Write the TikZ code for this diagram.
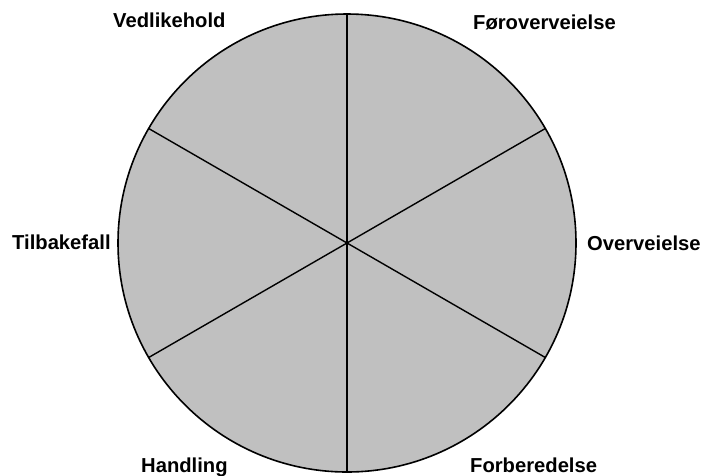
\documentclass[tikz,border=0pt]{standalone}
\usepackage{fontspec}
\setmainfont{Liberation Sans}
\usetikzlibrary{calc}
\begin{document}
\begin{tikzpicture}[x=1pt,y=-1pt,
  lbl/.style={anchor=base west,inner sep=0pt,font=\fontsize{20.2}{23}\selectfont\bfseries},
  spoke/.style={line width=1.4pt,black}]
\useasboundingbox (0,0) rectangle (704,475);
\coordinate (c) at (347,243);
\fill[fill={rgb,255:red,192;green,192;blue,192}] (c) circle[radius=229];
\foreach \a/\n in {90/t,30/tr,-30/br,-90/b,-150/bl,150/tl}{
  \coordinate (\n) at ($(c)+(\a:229 and -229)$);
}
\draw[spoke] (t) -- (b);
\draw[spoke] (tr) -- (bl);
\draw[spoke] (tl) -- (br);
\draw[line width=1.6pt] (c) circle[radius=229];
\node[lbl] (v) at (113,27) {Vedlikehold};
\node[lbl] (f) at (473,29) {Føroverveielse};
\node[lbl] (tb) at (12,249) {Tilbakefall};
\node[lbl] (o) at (587,250) {Overveielse};
\node[lbl] (h) at (141,472) {Handling};
\node[lbl] (fb) at (470,472) {Forberedelse};
\end{tikzpicture}
\end{document}
